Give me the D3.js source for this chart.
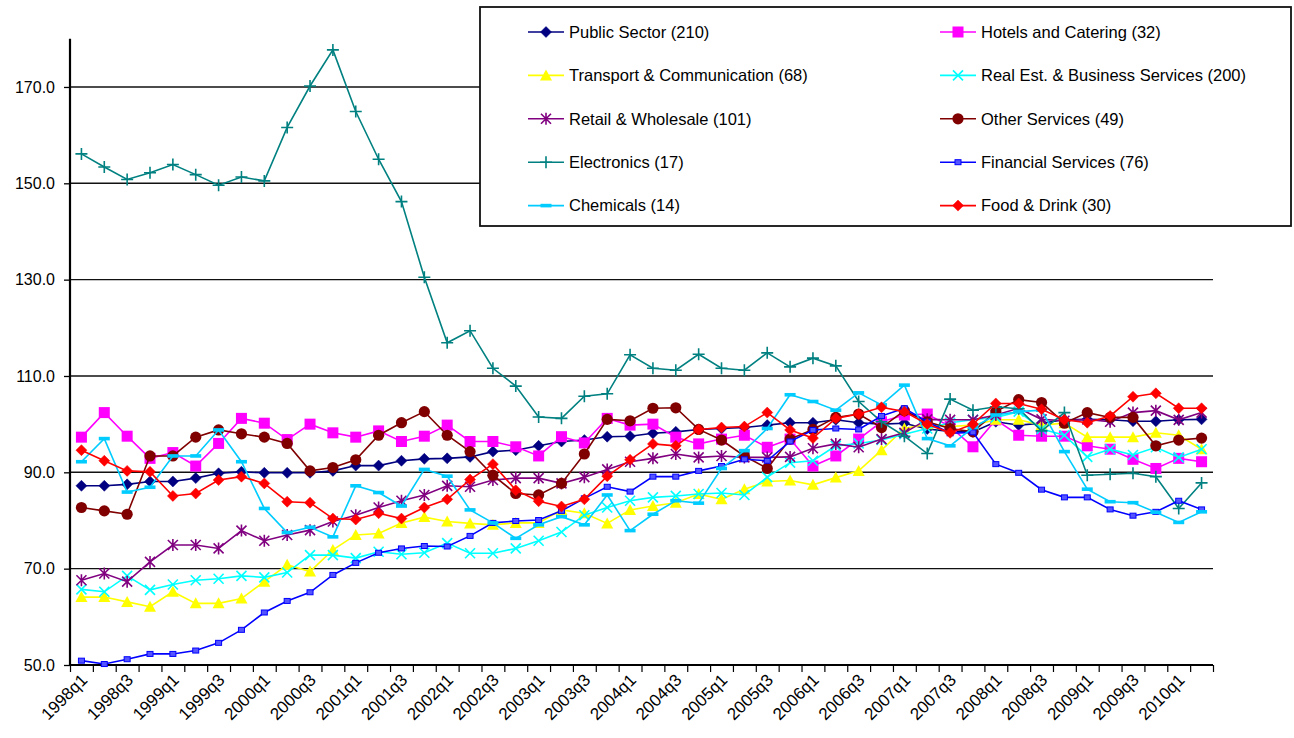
<!DOCTYPE html>
<html>
<head>
<meta charset="utf-8">
<script src="https://cdn.jsdelivr.net/npm/d3@7"></script>
<style>
  html, body { margin: 0; padding: 0; background: #fff; }
  svg { display: block; font-family: "Liberation Sans", Arial, sans-serif; }
</style>
</head>
<body>
<svg id="chart" width="1294" height="738"></svg>
<script>
const quarters = ["1998q1","1998q2","1998q3","1998q4","1999q1","1999q2","1999q3","1999q4",
  "2000q1","2000q2","2000q3","2000q4","2001q1","2001q2","2001q3","2001q4",
  "2002q1","2002q2","2002q3","2002q4","2003q1","2003q2","2003q3","2003q4",
  "2004q1","2004q2","2004q3","2004q4","2005q1","2005q2","2005q3","2005q4",
  "2006q1","2006q2","2006q3","2006q4","2007q1","2007q2","2007q3","2007q4",
  "2008q1","2008q2","2008q3","2008q4","2009q1","2009q2","2009q3","2009q4",
  "2010q1","2010q2"];
const yTicks = [50, 70, 90, 110, 130, 150, 170];

const publicSector = [87.2,87.2,87.5,88.1,88.1,88.8,89.8,90.1,89.9,89.9,89.9,90.3,91.4,91.4,92.4,92.8,92.9,93.2,94.3,94.6,95.5,96.4,96.7,97.4,97.5,98.1,98.4,98.9,99.1,99.3,99.8,100.3,100.3,100.9,100.3,100.0,100.2,99.0,98.5,98.4,100.5,99.8,100.2,100.9,101.0,100.9,100.6,100.6,100.9,101.0];
const hotels = [97.3,102.4,97.5,92.9,94.1,91.3,96.0,101.2,100.2,96.8,100.0,98.2,97.3,98.6,96.4,97.5,99.8,96.4,96.4,95.3,93.4,97.4,96.1,101.2,99.8,100.0,97.3,95.9,96.9,97.7,95.2,96.9,91.3,93.4,96.9,100.5,101.9,102.1,99.5,95.3,100.9,97.7,97.5,97.5,95.5,94.8,92.7,90.8,92.9,92.2];
const transport = [64.1,64.1,63.1,62.1,65.2,62.8,62.8,63.8,67.3,70.8,69.4,73.9,77.0,77.3,79.5,80.7,79.8,79.4,79.1,79.5,79.5,82.2,81.5,79.4,82.2,83.0,83.7,85.5,84.4,86.5,88.1,88.3,87.4,88.9,90.3,94.6,99.1,100.0,99.5,99.8,100.9,100.9,99.8,100.2,97.3,97.3,97.3,98.2,97.7,94.8];
const realEstate = [65.7,65.2,68.5,65.6,66.7,67.6,67.9,68.5,68.2,69.2,72.8,72.8,72.2,73.5,73.0,73.3,75.3,73.2,73.2,74.2,75.8,77.6,81.1,82.7,84.1,84.8,85.1,85.5,85.7,85.3,89.0,92.0,92.4,95.5,96.0,96.7,97.9,99.1,100.3,100.9,101.4,102.6,99.0,97.7,93.2,94.8,93.6,95.2,93.1,94.8];
const retail = [67.6,69.0,67.3,71.4,74.9,74.9,74.2,77.9,75.8,77.0,78.0,79.8,81.1,82.7,84.1,85.3,87.2,87.0,88.4,88.8,88.8,87.7,89.0,90.6,92.2,92.9,93.8,93.1,93.4,93.1,93.1,93.2,95.0,95.9,95.2,96.9,98.2,101.0,100.9,100.9,101.9,103.3,101.0,100.7,101.0,100.5,102.4,102.8,100.9,102.4];
const otherServices = [82.7,82.0,81.3,93.4,93.4,97.3,98.8,98.0,97.3,96.0,90.3,91.0,92.6,97.7,100.3,102.6,97.7,94.3,89.4,85.6,85.3,87.7,93.8,101.0,100.7,103.3,103.4,98.9,96.7,93.4,90.8,96.9,98.9,101.4,102.1,99.3,102.8,100.5,99.1,98.4,102.6,105.1,104.5,100.2,102.4,101.4,101.4,95.5,96.7,97.1];
const electronics = [156.1,153.4,150.8,152.2,153.9,151.8,149.6,151.3,150.5,161.6,170.2,177.7,164.9,155.0,146.2,130.5,116.9,119.4,111.6,107.9,101.5,101.2,105.8,106.3,114.4,111.6,111.2,114.5,111.6,111.2,114.8,111.9,113.7,112.1,104.7,100.5,97.5,93.9,105.2,102.9,103.6,103.2,98.6,102.4,89.4,89.6,89.8,89.1,82.5,87.8];
const financial = [50.9,50.2,51.2,52.3,52.3,53.0,54.6,57.3,60.9,63.3,65.1,68.7,71.2,73.3,74.2,74.7,74.6,76.8,79.5,79.9,80.1,82.0,84.6,87.0,86.0,89.1,89.1,90.3,91.3,92.7,92.4,96.4,98.8,99.1,98.9,101.7,103.3,100.5,98.1,98.3,91.7,89.9,86.4,84.8,84.8,82.3,81.0,81.8,84.1,82.3];
const chemicals = [92.2,97.0,85.9,86.9,93.4,93.4,98.8,92.2,82.5,77.5,78.6,76.6,87.2,85.8,83.0,90.6,89.2,82.2,79.5,76.3,79.1,80.8,79.1,85.3,77.9,81.3,84.1,83.6,90.8,94.5,99.1,106.1,104.7,102.9,106.5,104.0,108.1,97.0,95.5,99.3,101.9,102.6,102.9,94.3,86.5,83.9,83.7,81.7,79.6,81.8];
const foodDrink = [94.6,92.4,90.3,90.1,85.1,85.6,88.4,89.1,87.7,83.9,83.7,80.4,80.2,81.5,80.4,82.7,84.4,88.5,91.7,86.3,84.0,82.9,84.4,89.2,92.6,95.9,95.5,98.9,99.3,99.5,102.4,98.8,97.1,101.2,102.1,103.5,102.6,100.0,98.2,100.0,104.3,104.3,103.1,100.9,100.3,101.7,105.7,106.4,103.3,103.3];

const seriesNames = ["Public Sector (210)","Hotels and Catering (32)","Transport & Communication (68)",
  "Real Est. & Business Services (200)","Retail & Wholesale (101)","Other Services (49)",
  "Electronics (17)","Financial Services (76)","Chemicals (14)","Food & Drink (30)"];
const seriesValues = [publicSector, hotels, transport, realEstate, retail, otherServices,
  electronics, financial, chemicals, foodDrink];
const seriesColors = ["#000080","#FF00FF","#FFFF00","#00FFFF","#800080","#800000",
  "#008080","#0000FF","#00CCFF","#FF0000"];
const seriesMarkers = ["diamond","square","triangle","x","star","circle","plus","smallsquare","dash","diamond"];

const svg = d3.select("#chart");
const plotLeft = 70, plotRight = 1213, plotTop = 38.8, plotBottom = 665;

const x = d3.scaleBand().domain(quarters).range([plotLeft, plotRight]).paddingInner(0).paddingOuter(0);
const xc = d => x(d) + x.bandwidth() / 2;
const y = d3.scaleLinear().domain([50, 180]).range([plotBottom, plotTop]);

// gridlines
svg.append("g").selectAll("line").data(yTicks.filter(v => v > 50)).join("line")
  .attr("x1", plotLeft).attr("x2", plotRight)
  .attr("y1", d => y(d)).attr("y2", d => y(d))
  .attr("stroke", "#111").attr("stroke-width", 1.4);

// y axis
const yAxis = svg.append("g").attr("transform", `translate(${plotLeft},0)`)
  .call(d3.axisLeft(y).tickValues(yTicks).tickSize(6).tickPadding(9).tickFormat(d3.format(".1f")));
yAxis.select(".domain").attr("stroke", "#000").attr("stroke-width", 2.2)
  .attr("d", `M0,${plotTop}V${plotBottom}`);
yAxis.selectAll(".tick line").attr("stroke", "#000").attr("stroke-width", 1.3);
yAxis.selectAll(".tick text").attr("font-size", 16).attr("fill", "#000")
  .attr("font-family", "Liberation Sans, Arial, sans-serif");

// x axis: tick marks at category boundaries
const xb = d3.scaleLinear().domain([0, quarters.length]).range([plotLeft, plotRight]);
const xAxis = svg.append("g").attr("transform", `translate(0,${plotBottom})`)
  .call(d3.axisBottom(xb).tickValues(d3.range(0, quarters.length + 1)).tickSize(7).tickFormat(""));
xAxis.select(".domain").attr("stroke", "#000").attr("stroke-width", 2.2).attr("d", `M${plotLeft},0H${plotRight}`);
xAxis.selectAll(".tick line").attr("stroke", "#000").attr("stroke-width", 1.2);

// x labels (every other category)
const xLab = svg.append("g").attr("transform", `translate(0,${plotBottom})`)
  .call(d3.axisBottom(x).tickValues(quarters.filter((q, i) => i % 2 === 0)).tickSize(0).tickPadding(0));
xLab.select(".domain").remove();
xLab.selectAll(".tick text")
  .attr("font-size", 17).attr("fill", "#000")
  .attr("font-family", "Liberation Sans, Arial, sans-serif")
  .attr("text-anchor", "end")
  .attr("dy", 0).attr("y", 0)
  .attr("transform", "translate(7,16) rotate(-45)");

// marker drawer
function drawMarker(g, type, color) {
  switch (type) {
    case "diamond":
      g.append("path").attr("d", "M0,-5.5L5.5,0L0,5.5L-5.5,0Z").attr("fill", color).attr("stroke", color).attr("stroke-width", 0.5); break;
    case "square":
      g.append("rect").attr("x", -5.5).attr("y", -5.5).attr("width", 11).attr("height", 11).attr("fill", color); break;
    case "triangle":
      g.append("path").attr("d", "M0,-6L6,5L-6,5Z").attr("fill", color); break;
    case "x":
      g.append("path").attr("d", "M-5,-5L5,5M-5,5L5,-5").attr("stroke", color).attr("stroke-width", 1.6).attr("fill", "none"); break;
    case "star":
      g.append("path").attr("d", "M-5,-5L5,5M-5,5L5,-5M0,-6V6").attr("stroke", color).attr("stroke-width", 1.6).attr("fill", "none"); break;
    case "circle":
      g.append("circle").attr("r", 5.6).attr("fill", color); break;
    case "plus":
      g.append("path").attr("d", "M-6,0H6M0,-6V6").attr("stroke", color).attr("stroke-width", 1.6).attr("fill", "none"); break;
    case "smallsquare":
      g.append("rect").attr("x", -3).attr("y", -2.5).attr("width", 6).attr("height", 5).attr("fill", "#5555ff").attr("stroke", color).attr("stroke-width", 1); break;
    case "dash":
      g.append("rect").attr("x", -5.5).attr("y", -1.8).attr("width", 11).attr("height", 3.6).attr("fill", color); break;
  }
}

const line = d3.line().x((d, i) => xc(quarters[i])).y(d => y(d));

seriesValues.forEach((vals, s) => {
  const g = svg.append("g");
  g.append("path").attr("d", line(vals)).attr("fill", "none")
    .attr("stroke", seriesColors[s]).attr("stroke-width", 1.6);
  vals.forEach((v, i) => {
    const mg = g.append("g").attr("transform", `translate(${xc(quarters[i])},${y(v)})`);
    drawMarker(mg, seriesMarkers[s], seriesColors[s]);
  });
});

// legend
const lg = svg.append("g");
lg.append("rect").attr("x", 480).attr("y", 7).attr("width", 811).attr("height", 219)
  .attr("fill", "#fff").attr("stroke", "#111").attr("stroke-width", 1.8);
seriesNames.forEach((name, s) => {
  const col = s % 2, row = Math.floor(s / 2);
  const lx = col === 0 ? 528 : 940;
  const ly = 32 + row * 43.4;
  const item = lg.append("g").attr("transform", `translate(${lx},${ly})`);
  item.append("line").attr("x1", 0).attr("x2", 36).attr("y1", 0).attr("y2", 0)
    .attr("stroke", seriesColors[s]).attr("stroke-width", 1.6);
  drawMarker(item.append("g").attr("transform", "translate(18,0)"), seriesMarkers[s], seriesColors[s]);
  item.append("text").attr("x", 41).attr("y", 0).attr("dy", "0.35em")
    .attr("font-size", 16.5).attr("fill", "#000").text(name);
});
</script>
</body>
</html>
